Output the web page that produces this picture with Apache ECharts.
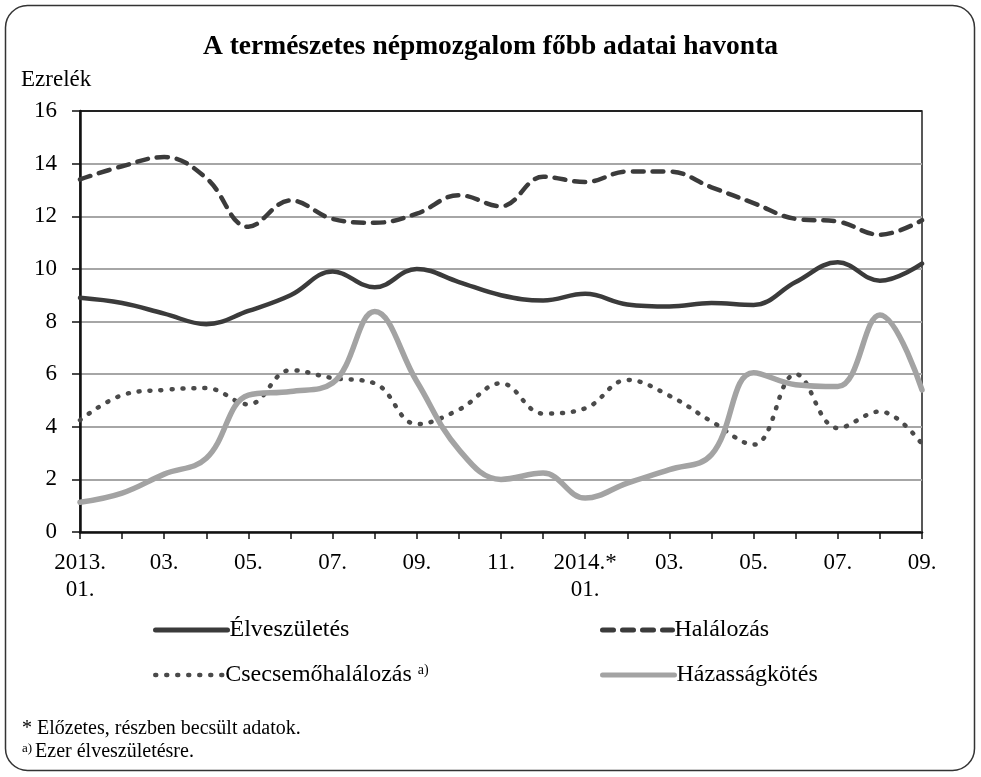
<!DOCTYPE html>
<html>
<head>
<meta charset="utf-8">
<script src="https://cdn.jsdelivr.net/npm/echarts@6/dist/echarts.min.js"></script>
<style>
  html, body { margin: 0; padding: 0; background: #fff; }
  #chart { width: 981px; height: 777px; }
</style>
</head>
<body>
<div id="chart"></div>
<script>
// havi adatok, 2013.01 - 2014.09
const months = ['2013.\n01.', '02.', '03.', '04.', '05.', '06.', '07.', '08.', '09.', '10.', '11.', '12.',
    '2014.*\n01.', '02.', '03.', '04.', '05.', '06.', '07.', '08.', '09.'];
const elveszuletes = [8.9, 8.7, 8.3, 7.9, 8.4, 9.0, 9.9, 9.3, 10.0, 9.5, 9.0, 8.8, 9.05, 8.65, 8.57, 8.7, 8.63, 9.5, 10.25, 9.55, 10.2];
const halalozas = [13.4, 13.9, 14.25, 13.45, 11.6, 12.6, 11.9, 11.75, 12.1, 12.8, 12.38, 13.5, 13.3, 13.7, 13.7, 13.1, 12.5, 11.9, 11.8, 11.3, 11.85];
const csecsemohalalozas = [4.25, 5.2, 5.4, 5.47, 4.85, 6.15, 5.85, 5.65, 4.1, 4.65, 5.65, 4.5, 4.7, 5.78, 5.18, 4.2, 3.32, 6.0, 3.95, 4.58, 3.34];
const hazassagkotes = [1.13, 1.48, 2.2, 2.8, 5.2, 5.34, 5.66, 8.38, 5.72, 3.13, 2.0, 2.24, 1.29, 1.86, 2.37, 2.94, 6.05, 5.6, 5.53, 8.25, 5.4];
const seriesNames = ['Élveszületés', 'Halálozás', 'Csecsemőhalálozás', 'Házasságkötés'];

const FONT = 'Liberation Serif';
const chart = echarts.init(document.getElementById('chart'));

function legendAt(name, left, top, width, lineWidth) {
    return {
        data: [name],
        left: left,
        top: top,
        padding: 0,
        itemWidth: width,
        itemHeight: 14,
        itemGap: 0,
        itemStyle: { color: 'transparent', borderColor: 'transparent', borderWidth: 0, opacity: 0 },
        lineStyle: { width: lineWidth },
        textStyle: {
            fontFamily: FONT,
            fontSize: 24,
            color: '#000',
            padding: [0, 0, 0, -3],
            rich: {
                n: { fontFamily: FONT, fontSize: 24, color: '#000' },
                s: { fontFamily: FONT, fontSize: 14, color: '#000', verticalAlign: 'top', padding: [0, 0, 10, 0] }
            }
        },
        formatter: function(n) {
            return n === 'Csecsemőhalálozás' ? '{n|' + n + '} {s|a)}' : n;
        }
    };
}

chart.setOption({
    backgroundColor: '#fff',
    animation: false,
    title: {
        text: 'A természetes népmozgalom főbb adatai havonta',
        left: 'center',
        top: 28,
        textStyle: { fontFamily: FONT, fontSize: 27.5, fontWeight: 'bold', color: '#000' }
    },
    graphic: [
        {
            type: 'rect',
            shape: { x: 5.5, y: 5.5, width: 969, height: 765, r: 22 },
            style: { fill: 'none', stroke: '#333', lineWidth: 1.5 },
            z: -1
        },
        {
            type: 'text', left: 21, top: 68,
            style: { text: 'Ezrelék', font: '23px "Liberation Serif"', fill: '#000' }
        },
        {
            type: 'text', left: 22, top: 719,
            style: { text: '* Előzetes, részben becsült adatok.', font: '20px "Liberation Serif"', fill: '#000' }
        },
        {
            type: 'text', left: 22, top: 742,
            style: {
                text: '{s|a)}{n|Ezer élveszületésre.}',
                rich: {
                    s: { font: '13px "Liberation Serif"', fill: '#000', verticalAlign: 'top', padding: [0, 3, 7, 0] },
                    n: { font: '20px "Liberation Serif"', fill: '#000' }
                }
            }
        }
    ],
    legend: [
        legendAt('Élveszületés', 153, 618, 72, 5),
        legendAt('Halálozás', 600, 618, 70, 5),
        legendAt('Csecsemőhalálozás', 153, 663, 68, 4.5),
        legendAt('Házasságkötés', 600, 663, 72, 5)
    ],
    grid: {
        left: 80,
        right: 59,
        top: 111,
        bottom: 245,
        show: true,
        borderColor: '#222',
        borderWidth: 1.5,
        backgroundColor: 'transparent'
    },
    xAxis: {
        type: 'category',
        data: months,
        boundaryGap: false,
        axisLine: { lineStyle: { color: '#111', width: 2.5 } },
        axisTick: { show: true, interval: 0, length: 7, lineStyle: { color: '#111', width: 1.5 } },
        axisLabel: {
            interval: 1,
            margin: 17,
            fontFamily: FONT,
            fontSize: 23,
            lineHeight: 27,
            color: '#000'
        },
        splitLine: { show: false }
    },
    yAxis: {
        type: 'value',
        min: 0,
        max: 16,
        interval: 2,
        axisLine: { show: true, lineStyle: { color: '#111', width: 2.5 } },
        axisTick: { show: true, length: 8, lineStyle: { color: '#111', width: 1.5 } },
        axisLabel: { margin: 23, fontFamily: FONT, fontSize: 23, color: '#000' },
        splitLine: {
            lineStyle: {
                color: ['#a6a6a6', '#a6a6a6', '#a6a6a6', '#a6a6a6', '#a6a6a6', '#a6a6a6', '#a6a6a6', '#a6a6a6', '#222'],
                width: 2
            }
        }
    },
    series: [
        {
            name: seriesNames[0],
            type: 'line',
            data: elveszuletes,
            smooth: 0.4,
            symbol: 'none',
            lineStyle: { color: '#3b3b3b', width: 4.5, cap: 'round' },
            itemStyle: { color: '#3b3b3b' }
        },
        {
            name: seriesNames[1],
            type: 'line',
            data: halalozas,
            smooth: 0.4,
            symbol: 'none',
            lineStyle: { color: '#3b3b3b', width: 4.5, type: [11, 9], cap: 'round' },
            itemStyle: { color: '#3b3b3b' }
        },
        {
            name: seriesNames[2],
            type: 'line',
            data: csecsemohalalozas,
            smooth: 0.4,
            symbol: 'none',
            lineStyle: { color: '#4a4a4a', width: 4.5, type: [1, 10], cap: 'round' },
            itemStyle: { color: '#4a4a4a' }
        },
        {
            name: seriesNames[3],
            type: 'line',
            data: hazassagkotes,
            smooth: 0.4,
            symbol: 'none',
            lineStyle: { color: '#a3a3a3', width: 5.5, cap: 'round' },
            itemStyle: { color: '#a3a3a3' }
        }
    ]
});
</script>
</body>
</html>
